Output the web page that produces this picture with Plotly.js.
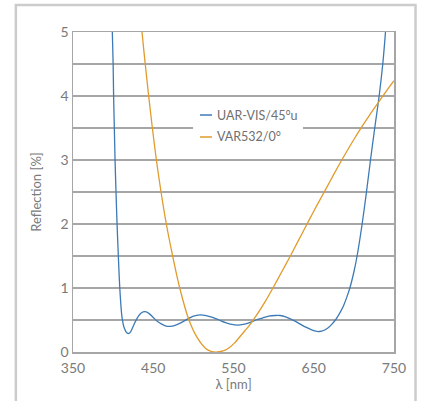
<!DOCTYPE html>
<html>
<head>
<meta charset="utf-8">
<script src="https://cdn.plot.ly/plotly-3.0.1.min.js"></script>
<style>html,body{margin:0;padding:0;background:#fff;}#chart{width:424px;height:401px;}</style>
</head>
<body>
<div id="chart"></div>
<script>
// Series 1: UAR-VIS/45°u
var uarName = 'UAR-VIS/45°u';
var uarWl = [398, 399, 400, 400.6, 401.5, 402.4, 403.6, 404.9, 406.5, 408.3, 411, 414, 417, 419.5, 422, 426, 430, 435, 440, 445, 450, 455, 460, 465, 471, 478, 485, 492, 500, 508, 516, 524, 532, 540, 548, 555, 562, 570, 578, 586, 594, 602, 608, 615, 622, 630, 638, 645, 651, 657, 663, 668, 673, 677, 682, 687, 691, 695, 700, 704, 710.3, 715.7, 720.7, 726, 731.5, 736, 739.4, 741];
var uarR  = [5.6, 5.0, 4.5, 4.0, 3.5, 3.0, 2.5, 2.0, 1.5, 1.0, 0.55, 0.37, 0.30, 0.29, 0.32, 0.43, 0.53, 0.61, 0.63, 0.60, 0.54, 0.48, 0.44, 0.41, 0.40, 0.42, 0.46, 0.51, 0.56, 0.58, 0.57, 0.54, 0.50, 0.46, 0.43, 0.42, 0.43, 0.46, 0.50, 0.53, 0.56, 0.57, 0.57, 0.55, 0.51, 0.46, 0.40, 0.36, 0.33, 0.32, 0.34, 0.38, 0.44, 0.50, 0.60, 0.72, 0.85, 1.0, 1.25, 1.5, 2.0, 2.5, 3.0, 3.5, 4.0, 4.5, 5.0, 5.3];

// Series 2: VAR532/0°
var varName = 'VAR532/0°';
var varWl = [434, 436, 440, 444.3, 448.9, 453.9, 459.7, 466.3, 474.2, 483, 494.5, 505, 515, 522, 530, 538, 545, 552, 560, 570, 580, 590, 600, 610, 620, 630, 640, 650, 660, 670, 680, 690, 700, 710, 720, 730, 740, 750];
var varR  = [5.3, 5.0, 4.5, 4.0, 3.5, 3.0, 2.5, 2.0, 1.5, 1.0, 0.5, 0.22, 0.06, 0.01, 0.0, 0.02, 0.07, 0.15, 0.27, 0.42, 0.60, 0.80, 1.02, 1.25, 1.48, 1.72, 1.96, 2.20, 2.43, 2.66, 2.89, 3.11, 3.32, 3.52, 3.71, 3.89, 4.07, 4.24];

var xTicks = [350, 450, 550, 650, 750];
var yTicks = [0, 1, 2, 3, 4, 5];
var xTitle = 'λ [nm]';
var yTitle = 'Reflection [%]';

var FONT = 'Lato, "Open Sans", sans-serif';
var GRID = '#a6a6a6';
var BLUE = '#3d7ab5';
var ORANGE = '#e09b2c';

var traces = [
  {x: uarWl, y: uarR, name: uarName, type: 'scatter', mode: 'lines',
   line: {color: BLUE, width: 1.3, shape: 'spline', smoothing: 0.8}},
  {x: varWl, y: varR, name: varName, type: 'scatter', mode: 'lines',
   line: {color: ORANGE, width: 1.3, shape: 'spline', smoothing: 0.8}}
];

// legend drawn in paper coordinates (line sample + label)
var legX0 = 0.3956, legX1 = 0.433, legTextX = 0.4424;
var legY = [0.7406, 0.6719];
var legendItems = [{name: uarName, color: BLUE}, {name: varName, color: ORANGE}];

var shapes = [
  {type: 'rect', xref: 'paper', yref: 'paper', x0: -0.178, x1: 1.067, y0: -0.5, y1: 1.084,
   line: {color: '#cccccc', width: 2.5}, fillcolor: 'rgba(0,0,0,0)', layer: 'below'},
  {type: 'rect', xref: 'paper', yref: 'paper', x0: 0.374, x1: 0.7165, y0: 0.6375, y1: 0.775,
   line: {width: 0}, fillcolor: '#ffffff', layer: 'above'}
];
var annotations = [];
legendItems.forEach(function (it, i) {
  shapes.push({type: 'line', xref: 'paper', yref: 'paper', x0: legX0, x1: legX1, y0: legY[i], y1: legY[i],
               line: {color: it.color, width: 1.5}, layer: 'above'});
  annotations.push({xref: 'paper', yref: 'paper', x: legTextX, y: legY[i], xanchor: 'left', yanchor: 'middle',
                    text: it.name, showarrow: false, font: {family: FONT, size: 12.5, color: '#707070'}});
});

var layout = {
  width: 424, height: 401,
  margin: {l: 73, r: 30, t: 32, b: 49},
  paper_bgcolor: '#fff', plot_bgcolor: '#fff',
  font: {family: FONT, color: '#7a7a7a', size: 13},
  showlegend: false,
  xaxis: {
    range: [350, 750], tickvals: xTicks, ticktext: xTicks.map(String),
    showgrid: false, zeroline: false,
    showline: true, mirror: true, linecolor: GRID, linewidth: 1.5,
    ticks: '', ticklabelstandoff: 3, tickfont: {size: 14, color: '#7a7a7a'},
    title: {text: xTitle, font: {size: 13, color: '#7a7a7a'}, standoff: 3}
  },
  yaxis: {
    range: [0, 5], tickvals: yTicks, ticktext: yTicks.map(String),
    showgrid: true, gridcolor: GRID, gridwidth: 1.5,
    minor: {dtick: 0.5, showgrid: true, gridcolor: GRID, gridwidth: 1.5},
    zeroline: false,
    showline: true, mirror: true, linecolor: GRID, linewidth: 1.5,
    ticks: '', tickfont: {size: 14, color: '#7a7a7a'},
    title: {text: yTitle, font: {size: 13, color: '#7a7a7a'}, standoff: 16}
  },
  shapes: shapes,
  annotations: annotations
};

Plotly.newPlot('chart', traces, layout, {displayModeBar: false, staticPlot: true});
</script>
</body>
</html>
